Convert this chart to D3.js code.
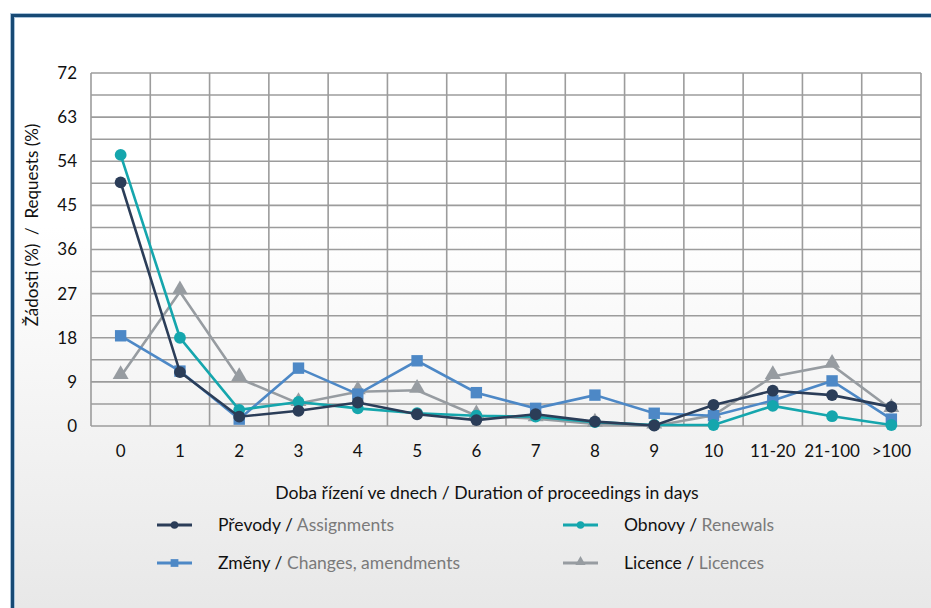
<!DOCTYPE html>
<html>
<head>
<meta charset="utf-8">
<script src="https://cdn.jsdelivr.net/npm/d3@7"></script>
<style>
  body { margin: 0; background: #fff; }
  text { font-family: Lato, "Open Sans", sans-serif; }
</style>
</head>
<body>
<script>
// chart data
var categories = ['0', '1', '2', '3', '4', '5', '6', '7', '8', '9', '10', '11-20', '21-100', '>100'];
var yTicks = [0, 9, 18, 27, 36, 45, 54, 63, 72];
var prevody = [49.7, 11, 1.9, 3.1, 4.8, 2.4, 1.2, 2.4, 0.9, 0.1, 4.3, 7.2, 6.3, 3.9];
var obnovy  = [55.3, 18, 3.3, 4.9, 3.6, 2.6, 2.1, 1.9, 0.8, 0.2, 0.2, 4.1, 2.0, 0.2];
var zmeny   = [18.4, 11.2, 1.4, 11.8, 6.5, 13.3, 6.8, 3.6, 6.3, 2.6, 2.1, 5.2, 9.2, 1.4];
var licence = [10.1, 27.4, 9.7, 4.6, 7.0, 7.3, 2.1, 1.5, 0.4, 0, 2.2, 10.1, 12.4, 3.4];

var seriesNames = ['Převody', 'Změny', 'Obnovy', 'Licence'];
var seriesLabels = ['Assignments', 'Changes, amendments', 'Renewals', 'Licences'];

var width = 931, height = 608;

var svg = d3.select('body')
  .append('svg')
  .attr('width', width)
  .attr('height', height);

var defs = svg.append('defs');
var grad = defs.append('linearGradient')
  .attr('id', 'bg')
  .attr('x1', 0).attr('y1', 0).attr('x2', 0).attr('y2', 1);
grad.append('stop').attr('offset', '0%').attr('stop-color', '#ffffff');
grad.append('stop').attr('offset', '35%').attr('stop-color', '#ffffff');
grad.append('stop').attr('offset', '100%').attr('stop-color', '#e7e7e7');

// panel with blue frame (open to right and bottom)
svg.append('rect')
  .attr('x', 12).attr('y', 15)
  .attr('width', width).attr('height', height)
  .attr('fill', 'url(#bg)');
svg.append('path')
  .attr('d', 'M12.5,' + height + ' L12.5,15.5 L' + width + ',15.5')
  .attr('fill', 'none')
  .attr('stroke', '#a9c3da')
  .attr('stroke-width', 5);
svg.append('path')
  .attr('d', 'M12.5,' + height + ' L12.5,15.5 L' + width + ',15.5')
  .attr('fill', 'none')
  .attr('stroke', '#174a75')
  .attr('stroke-width', 3);

var plotLeft = 91, plotRight = 921, plotTop = 73, plotBottom = 426;

var x = d3.scaleBand()
  .domain(categories)
  .range([plotLeft, plotRight]);

var y = d3.scaleLinear()
  .domain([0, 72])
  .range([plotBottom, plotTop]);

// grid
var grid = svg.append('g');
var minor = d3.range(0, 72.1, 4.5);
grid.selectAll('line.h')
  .data(minor)
  .enter().append('line')
  .attr('class', 'h')
  .attr('x1', plotLeft).attr('x2', plotRight)
  .attr('y1', function(d) { return y(d); })
  .attr('y2', function(d) { return y(d); })
  .attr('stroke', '#9c9c9c')
  .attr('stroke-width', 1.6);

var edges = categories.map(function(c) { return x(c); }).concat([plotRight]);
grid.selectAll('line.v')
  .data(edges)
  .enter().append('line')
  .attr('class', 'v')
  .attr('x1', function(d) { return d; })
  .attr('x2', function(d) { return d; })
  .attr('y1', plotTop).attr('y2', plotBottom)
  .attr('stroke', '#9c9c9c')
  .attr('stroke-width', 1.6);

// y axis labels
var yAxis = d3.axisLeft(y).tickValues(yTicks).tickSize(0).tickPadding(14);
var ya = svg.append('g').attr('transform', 'translate(' + plotLeft + ',0)').call(yAxis);
ya.select('.domain').remove();
ya.selectAll('text')
  .attr('font-family', 'Lato, sans-serif')
  .attr('font-size', 17)
  .attr('fill', '#111');

// x axis labels
var xAxis = d3.axisBottom(x).tickSize(0).tickPadding(19);
var xa = svg.append('g').attr('transform', 'translate(0,' + plotBottom + ')').call(xAxis);
xa.select('.domain').remove();
xa.selectAll('text')
  .attr('font-family', 'Lato, sans-serif')
  .attr('font-size', 17)
  .attr('fill', '#111');

// axis titles
svg.append('text')
  .attr('x', 487).attr('y', 499)
  .attr('text-anchor', 'middle')
  .attr('font-size', 17.6)
  .attr('fill', '#111')
  .text('Doba řízení ve dnech / Duration of proceedings in days');

svg.append('text')
  .attr('transform', 'translate(38,225) rotate(-90)')
  .attr('text-anchor', 'middle')
  .attr('font-size', 17)
  .attr('fill', '#111')
  .attr('xml:space', 'preserve')
  .text('Žádosti (%)  /  Requests (%)');

// series, drawn bottom to top
var series = [
  { name: 'Licence', values: licence, color: '#979ca1', marker: 'triangle' },
  { name: 'Změny', values: zmeny, color: '#4d88c6', marker: 'square' },
  { name: 'Obnovy', values: obnovy, color: '#15a6ad', marker: 'circle' },
  { name: 'Převody', values: prevody, color: '#2b3d58', marker: 'circle' }
];

var cx = function(d, i) { return x(categories[i]) + x.bandwidth() / 2; };

var line = d3.line()
  .x(function(d, i) { return cx(d, i); })
  .y(function(d) { return y(d); });

function symbolFor(m, big) {
  if (m === 'square') return d3.symbol().type(d3.symbolSquare).size(big ? 130 : 60)();
  if (m === 'triangle') return d3.symbol().type(d3.symbolTriangle).size(big ? 110 : 45)();
  return d3.symbol().type(d3.symbolCircle).size(big ? 110 : 45)();
}

series.forEach(function(s) {
  var g = svg.append('g');
  g.append('path')
    .datum(s.values)
    .attr('d', line)
    .attr('fill', 'none')
    .attr('stroke', s.color)
    .attr('stroke-width', 2.6);
  g.selectAll('path.m')
    .data(s.values)
    .enter().append('path')
    .attr('class', 'm')
    .attr('transform', function(d, i) { return 'translate(' + cx(d, i) + ',' + (y(d) - (s.marker === 'triangle' ? 2 : 0)) + ')'; })
    .attr('d', symbolFor(s.marker, true))
    .attr('fill', s.color);
});

// legend
var legendItems = [
  { name: seriesNames[0], label: seriesLabels[0], color: '#2b3d58', marker: 'circle', lx: 157, ly: 525 },
  { name: seriesNames[1], label: seriesLabels[1], color: '#4d88c6', marker: 'square', lx: 157, ly: 563 },
  { name: seriesNames[2], label: seriesLabels[2], color: '#15a6ad', marker: 'circle', lx: 563, ly: 525 },
  { name: seriesNames[3], label: seriesLabels[3], color: '#979ca1', marker: 'triangle', lx: 563, ly: 563 }
];

var lg = svg.append('g');
legendItems.forEach(function(it) {
  lg.append('line')
    .attr('x1', it.lx).attr('x2', it.lx + 35)
    .attr('y1', it.ly).attr('y2', it.ly)
    .attr('stroke', it.color)
    .attr('stroke-width', 3);
  lg.append('path')
    .attr('transform', 'translate(' + (it.lx + 17.5) + ',' + (it.ly - (it.marker === 'triangle' ? 1 : 0)) + ')')
    .attr('d', symbolFor(it.marker, false))
    .attr('fill', it.color);
  var t = lg.append('text')
    .attr('x', it.lx + 61).attr('y', it.ly + 6)
    .attr('font-size', 17.5)
    .attr('fill', '#111');
  t.append('tspan').text(it.name + ' / ');
  t.append('tspan').attr('fill', '#7a7a7a').text(it.label);
});
</script>
</body>
</html>
